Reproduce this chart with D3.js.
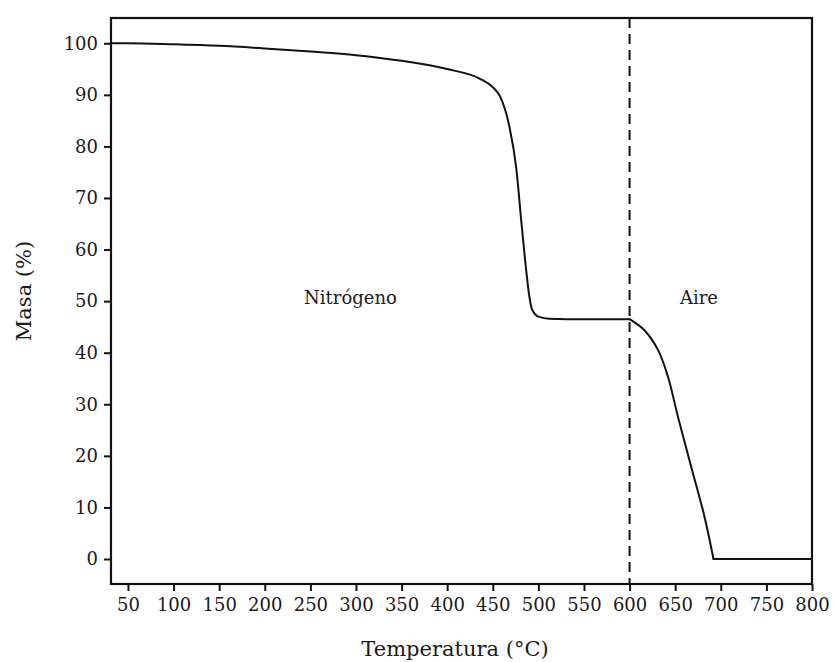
<!DOCTYPE html>
<html>
<head>
<meta charset="utf-8">
<script src="https://cdn.jsdelivr.net/npm/d3@7"></script>
<style>
  html, body { margin: 0; padding: 0; background: #fff; }
  svg { display: block; }
  text { font-family: "DejaVu Serif", "Liberation Serif", serif; fill: #1a1a1a; }
</style>
</head>
<body>
<svg id="chart" width="833" height="662"></svg>
<script>
// Thermogravimetric curve: temperature (°C) and remaining mass (%)
// Pyrolysis under nitrogen up to 600 °C
const tempNitrogen = [31.4, 50, 100, 150, 200, 250, 300, 350, 400, 435, 450, 458, 468, 476, 481, 487, 490, 493, 500, 512, 550, 600];
const massNitrogen = [100, 100, 99.8, 99.5, 99.0, 98.4, 97.7, 96.6, 95.0, 93.2, 91.5, 89.7, 84.0, 75.4, 66.0, 55.4, 51.0, 48.4, 47.0, 46.6, 46.5, 46.5];
// Combustion in air after the gas switch
const tempAir = [600, 616, 631, 642, 653, 667.5, 682, 692];
const massAir = [46.5, 44.4, 40.6, 35.4, 27.6, 17.9, 8.3, 0];
// Residue plateau
const tempResidue = [692, 750, 800];
const massResidue = [0, 0, 0];

const xTicks = [50, 100, 150, 200, 250, 300, 350, 400, 450, 500, 550, 600, 650, 700, 750, 800];
const yTicks = [0, 10, 20, 30, 40, 50, 60, 70, 80, 90, 100];

// Atmosphere change and region labels
const switchTemp = 600;
const regionLabels = [
  { text: "Nitrógeno", t: 294, m: 49.4 },
  { text: "Aire",      t: 676, m: 49.4 }
];

const margin = { left: 111, right: 21, top: 18, bottom: 78 };
const W = 833, H = 662;

const svg = d3.select("#chart");

const x = d3.scaleLinear().domain([31.4, 800]).range([margin.left, W - margin.right]);
const y = d3.scaleLinear().domain([-4.85, 104.9]).range([H - margin.bottom, margin.top]);

const g = svg.append("g");

// x axis
const xAxis = g.append("g")
  .attr("transform", `translate(0,${H - margin.bottom})`)
  .call(d3.axisBottom(x).tickValues(xTicks).tickSize(7).tickPadding(7).tickFormat(d3.format("d")));
xAxis.select(".domain").remove();
xAxis.selectAll(".tick line").attr("stroke", "#111").attr("stroke-width", 2);
xAxis.selectAll(".tick text").style("font-size", "18px").attr("fill", "#1a1a1a");

// y axis
const yAxis = g.append("g")
  .attr("transform", `translate(${margin.left},0)`)
  .call(d3.axisLeft(y).tickValues(yTicks).tickSize(7).tickPadding(6).tickFormat(d3.format("d")));
yAxis.select(".domain").remove();
yAxis.selectAll(".tick line").attr("stroke", "#111").attr("stroke-width", 2);
yAxis.selectAll(".tick text").style("font-size", "18px").attr("fill", "#1a1a1a");

// frame
g.append("rect")
  .attr("x", margin.left).attr("y", margin.top)
  .attr("width", W - margin.left - margin.right)
  .attr("height", H - margin.top - margin.bottom)
  .attr("fill", "none").attr("stroke", "#111").attr("stroke-width", 2.2);

// dashed separator between nitrogen and air
g.append("line")
  .attr("x1", x(switchTemp)).attr("x2", x(switchTemp))
  .attr("y1", margin.top).attr("y2", H - margin.bottom)
  .attr("stroke", "#111").attr("stroke-width", 2)
  .attr("stroke-dasharray", "10,6");

// mass curve, one smooth piece per stage
const stages = [
  { ts: tempNitrogen, ms: massNitrogen, curve: d3.curveMonotoneX },
  { ts: tempAir,      ms: massAir,      curve: d3.curveCatmullRom.alpha(0.5) },
  { ts: tempResidue,  ms: massResidue,  curve: d3.curveLinear }
];
g.selectAll(".stage").data(stages).enter().append("path")
  .attr("class", "stage")
  .attr("d", s => d3.line().x(d => x(d[0])).y(d => y(d[1])).curve(s.curve)(s.ts.map((t, i) => [t, s.ms[i]])))
  .attr("fill", "none").attr("stroke", "#111").attr("stroke-width", 2)
  .attr("stroke-linejoin", "round").attr("stroke-linecap", "round");

// region labels
g.selectAll(".region").data(regionLabels).enter().append("text")
  .attr("class", "region")
  .attr("x", d => x(d.t)).attr("y", d => y(d.m))
  .attr("text-anchor", "middle")
  .style("font-size", "18px")
  .text(d => d.text);

// axis titles
svg.append("text")
  .attr("x", 455)
  .attr("y", 656)
  .attr("text-anchor", "middle")
  .style("font-size", "21px")
  .text("Temperatura (°C)");

svg.append("text")
  .attr("transform", `translate(31,291) rotate(-90)`)
  .attr("text-anchor", "middle")
  .style("font-size", "21px")
  .text("Masa (%)");
</script>
</body>
</html>
